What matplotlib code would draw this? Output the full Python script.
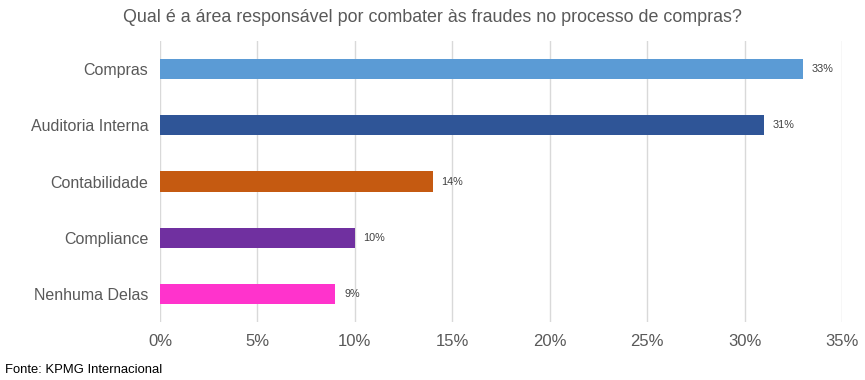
import matplotlib
matplotlib.use("Agg")
import matplotlib.pyplot as plt
from matplotlib.ticker import FuncFormatter

categories = ["Compras", "Auditoria Interna", "Contabilidade", "Compliance", "Nenhuma Delas"]
values = [33, 31, 14, 10, 9]
colors = ["#5B9BD5", "#2F5597", "#C55A11", "#7030A0", "#FF33CC"]
xticks = [0, 5, 10, 15, 20, 25, 30, 35]
title = "Qual é a área responsável por combater às fraudes no processo de compras?"
source = "Fonte: KPMG Internacional"

plt.rcParams['font.family'] = ['Liberation Sans', 'DejaVu Sans']

fig = plt.figure(figsize=(8.65, 3.8), dpi=100)
W, H = 865, 380
ax = fig.add_axes([160 / W, (H - 322) / H, (842 - 160) / W, (322 - 41) / H])

ypos = list(range(len(categories)))
ax.barh(ypos, values, height=0.36, color=colors, zorder=3)
for y, v in zip(ypos, values):
    ax.text(v + 0.45, y, f"{v}%", va="center", ha="left", fontsize=7.8,
            color="#404040", zorder=4)

ax.set_xlim(0, 35)
ax.set_ylim(len(categories) - 0.5, -0.5)
ax.set_yticks(ypos)
ax.set_yticklabels(categories, fontsize=11.5, color="#595959")
ax.set_xticks(xticks)
ax.xaxis.set_major_formatter(FuncFormatter(lambda x, p: f"{x:.0f}%"))
ax.tick_params(axis="x", labelsize=12, labelcolor="#595959", length=0, pad=9)
ax.tick_params(axis="y", length=0, pad=8.5)
ax.grid(axis="x", color="#D9D9D9", linewidth=1, zorder=0)
for s in ax.spines.values():
    s.set_visible(False)

fig.text(0.5, (H - 18) / H, title, ha="center", va="center", fontsize=12.9, color="#595959")
fig.text(5 / W, (H - 370) / H, source, ha="left", va="center", fontsize=9.4, color="black")

fig.savefig("out.png", dpi=100)
